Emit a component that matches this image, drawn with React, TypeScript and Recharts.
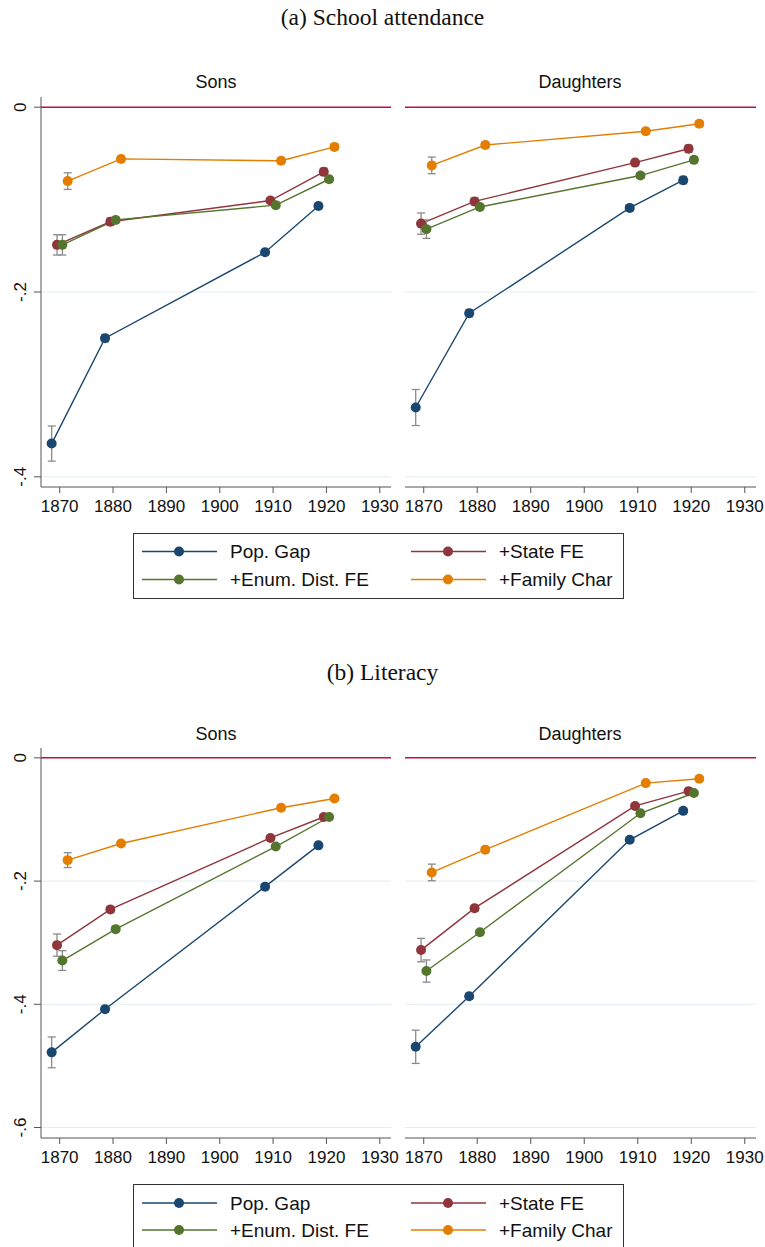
import React from 'react';
import { LineChart, Line, XAxis, YAxis, CartesianGrid, ReferenceLine, ErrorBar } from 'recharts';

const seriesNames = ['Pop. Gap', '+State FE', '+Enum. Dist. FE', '+Family Char'];
const COLORS = ['#1a476f', '#90353b', '#55752f', '#e37e00'];
const years = [1870, 1880, 1910, 1920];
const xTicks = [1870, 1880, 1890, 1900, 1910, 1920, 1930];

// (a) School attendance: one row per series, one value per census year
const attendSons = [
    [-0.364, -0.250, -0.157, -0.107],
    [-0.149, -0.124, -0.101, -0.070],
    [-0.149, -0.122, -0.106, -0.078],
    [-0.080, -0.056, -0.058, -0.043],
];
const attendSonsCI = [
    [0.019, 0.004, 0.003, 0.003],
    [0.011, 0.004, 0.003, 0.004],
    [0.011, 0.003, 0.003, 0.003],
    [0.009, 0.003, 0.003, 0.003],
];
const attendDaughters = [
    [-0.325, -0.223, -0.109, -0.079],
    [-0.126, -0.102, -0.060, -0.045],
    [-0.132, -0.108, -0.074, -0.057],
    [-0.063, -0.041, -0.026, -0.018],
];
const attendDaughtersCI = [
    [0.0195, 0.004, 0.003, 0.004],
    [0.0115, 0.004, 0.003, 0.004],
    [0.010, 0.003, 0.003, 0.003],
    [0.009, 0.003, 0.003, 0.003],
];
const attendTicks = [0, -0.2, -0.4];

// (b) Literacy
const litSons = [
    [-0.478, -0.408, -0.209, -0.142],
    [-0.304, -0.246, -0.130, -0.096],
    [-0.329, -0.278, -0.144, -0.096],
    [-0.166, -0.139, -0.081, -0.066],
];
const litSonsCI = [
    [0.025, 0.005, 0.004, 0.003],
    [0.018, 0.005, 0.003, 0.003],
    [0.016, 0.004, 0.003, 0.003],
    [0.012, 0.003, 0.003, 0.003],
];
const litDaughters = [
    [-0.469, -0.387, -0.133, -0.086],
    [-0.312, -0.244, -0.078, -0.054],
    [-0.346, -0.283, -0.090, -0.057],
    [-0.186, -0.149, -0.041, -0.034],
];
const litDaughtersCI = [
    [0.027, 0.005, 0.003, 0.003],
    [0.019, 0.005, 0.003, 0.003],
    [0.018, 0.004, 0.003, 0.003],
    [0.0135, 0.004, 0.003, 0.003],
];
const litTicks = [0, -0.2, -0.4, -0.6];

// series are dodged a little around each census year
const DODGE = [-1.5, -0.5, 0.5, 1.5];

const buildSeries = (est: number[][], ci: number[][]) =>
    est.map((vals, s) => vals.map((v, i) => ({ x: years[i] + DODGE[s], y: v, err: ci[s][i] })));

const fmt = (v: number) => (v === 0 ? '0' : v.toFixed(1).replace('0.', '.'));

const YTick = (props: any) => {
    const { y, payload } = props;
    return (
        <text transform={`translate(20,${y}) rotate(-90)`} textAnchor="middle" dy="0.35em" fontSize={17} fill="#111">
            {fmt(payload.value)}
        </text>
    );
};

type FacetProps = {
    est: number[][];
    ci: number[][];
    domain: [number, number];
    ticks: number[];
    left: number;
    top: number;
    withAxis: boolean;
};

const Facet: React.FC<FacetProps> = ({ est, ci, domain, ticks, left, top, withAxis }) => {
    const series = buildSeries(est, ci);
    return (
        <div style={{ position: 'absolute', left, top }}>
            <LineChart
                width={withAxis ? 400 : 365}
                height={430}
                margin={{ top: 7, right: 9, left: withAxis ? 8 : 5, bottom: 3 }}
            >
                <CartesianGrid vertical={false} horizontalValues={ticks} stroke="#e4edf0" />
                <XAxis
                    type="number"
                    dataKey="x"
                    domain={[1866.5, 1932.1]}
                    ticks={xTicks}
                    allowDataOverflow
                    height={30}
                    tickSize={6}
                    tickMargin={7}
                    stroke="#555"
                    tick={{ fill: '#111', fontSize: 17 }}
                />
                <YAxis
                    type="number"
                    domain={domain}
                    ticks={ticks}
                    allowDataOverflow
                    hide={!withAxis}
                    width={33}
                    tickSize={7}
                    stroke="#555"
                    tick={<YTick />}
                />
                <ReferenceLine y={0} stroke="#c5103a" strokeWidth={1.5} />
                {series.map((d, s) => (
                    <Line
                        key={seriesNames[s]}
                        data={d}
                        dataKey="y"
                        type="linear"
                        stroke={COLORS[s]}
                        strokeWidth={1.4}
                        dot={{ r: 5, fill: COLORS[s], stroke: COLORS[s], strokeWidth: 0 }}
                        activeDot={false}
                        isAnimationActive={false}
                    />
                ))}
                {/* caps drawn over the markers, like the original */}
                {series.map((d, s) => (
                    <Line
                        key={'ci' + s}
                        data={d}
                        dataKey="y"
                        stroke="none"
                        dot={false}
                        activeDot={false}
                        legendType="none"
                        isAnimationActive={false}
                    >
                        <ErrorBar dataKey="err" direction="y" width={4} stroke="#8a8a8a" strokeWidth={1.3} />
                    </Line>
                ))}
            </LineChart>
        </div>
    );
};

const LegendBox: React.FC<{ left: number; top: number; rows: number[] }> = ({ left, top, rows }) => (
    <svg style={{ position: 'absolute', left, top }} width={491} height={66}>
        <rect x={0.5} y={0.5} width={490} height={65} fill="#fff" stroke="#333" />
        {seriesNames.map((name, i) => {
            const col = i % 2;
            const cy = rows[Math.floor(i / 2)];
            const x0 = col ? 278 : 9;
            return (
                <g key={name}>
                    <line x1={x0} x2={x0 + 75} y1={cy} y2={cy} stroke={COLORS[i]} strokeWidth={1.5} />
                    <circle cx={x0 + 37} cy={cy} r={5} fill={COLORS[i]} />
                    <text x={x0 + 88} y={cy} dy="0.36em" fontSize={19} fill="#111">{name}</text>
                </g>
            );
        })}
    </svg>
);

const titleStyle: React.CSSProperties = {
    position: 'absolute',
    left: 0,
    width: 765,
    textAlign: 'center',
    fontFamily: '"Liberation Serif", "Times New Roman", serif',
    fontSize: 23.5,
    lineHeight: '23px',
};

const facetTitle = (text: string, cx: number, top: number) => (
    <div style={{ position: 'absolute', left: cx - 100, width: 200, top, textAlign: 'center', fontSize: 18, lineHeight: '18px' }}>
        {text}
    </div>
);

const App: React.FC = () => {
    return (
        <div
            style={{
                position: 'absolute',
                left: 0,
                top: 0,
                width: 765,
                height: 1247,
                overflow: 'hidden',
                background: '#fff',
                color: '#111',
                fontFamily: '"Liberation Sans", Arial, sans-serif',
            }}
        >
            <div style={{ ...titleStyle, top: 6 }}>(a) School attendance</div>
            {facetTitle('Sons', 216, 73)}
            {facetTitle('Daughters', 580, 73)}
            <Facet est={attendSons} ci={attendSonsCI} domain={[-0.411, 0.011]} ticks={attendTicks} left={0} top={90} withAxis />
            <Facet est={attendDaughters} ci={attendDaughtersCI} domain={[-0.411, 0.011]} ticks={attendTicks} left={400} top={90} withAxis={false} />
            <LegendBox left={133} top={533} rows={[18.5, 46.5]} />

            <div style={{ ...titleStyle, top: 661 }}>(b) Literacy</div>
            {facetTitle('Sons', 216, 725)}
            {facetTitle('Daughters', 580, 725)}
            <Facet est={litSons} ci={litSonsCI} domain={[-0.617, 0.016]} ticks={litTicks} left={0} top={741} withAxis />
            <Facet est={litDaughters} ci={litDaughtersCI} domain={[-0.617, 0.016]} ticks={litTicks} left={400} top={741} withAxis={false} />
            <LegendBox left={133} top={1184} rows={[19, 46]} />
        </div>
    );
};

export default App;
